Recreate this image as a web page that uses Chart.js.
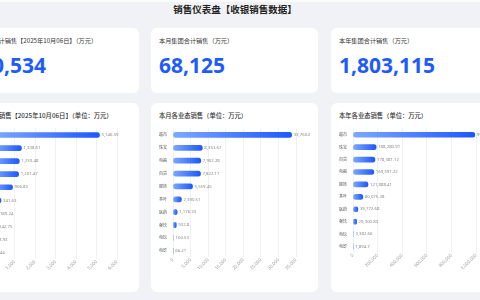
<!DOCTYPE html>
<html>
<head>
<meta charset="utf-8">
<script src="https://cdn.jsdelivr.net/npm/chart.js@4.4.1/dist/chart.umd.min.js"></script>
<style>
  html, body { margin: 0; padding: 0; }
  body {
    width: 480px; height: 300px; overflow: hidden; position: relative;
    background: #f0f2f5;
    font-family: "Noto Sans CJK SC", "Noto Sans", sans-serif;
  }
  .topline { position: absolute; left: 0; top: 0; width: 480px; height: 2px; background: #fbfbfc; }
  .wrap { position: absolute; left: -28px; top: 0; width: 526px; height: 300px; }
  .title {
    position: absolute; left: 0; width: 526px; top: 3px; text-align: center;
    font-size: 9.5px; font-weight: 700; color: #222; line-height: 12px;
  }
  .card { position: absolute; background: #fff; border-radius: 6px; width: 167px; }
  .kpi { top: 28px; height: 65px; }
  .box { top: 103px; height: 189px; }
  .lbl { position: absolute; left: 8px; top: 9px; font-size: 6.2px; line-height: 7px; color: #333; white-space: nowrap; }
  .num { position: absolute; left: 8px; top: 25px; font-size: 21px; line-height: 24px; font-weight: 700; color: #1e5bff; font-family: "Open Sans", "Noto Sans", sans-serif; }
  .ctitle { position: absolute; left: 8px; top: 9px; font-size: 6.3px; line-height: 7px; color: #333; font-weight: 500; white-space: nowrap; }
  .cv { position: absolute; left: 8px; top: 22px; width: 151px; height: 146px; }
</style>
</head>
<body>
<div class="topline"></div>
<div class="wrap">
  <div class="title">销售仪表盘【收银销售数据】</div>

  <div class="card kpi" style="left:0px"><div class="lbl">今日合计销售【2025年10月06日】（万元）</div><div class="num" id="kpiDay"></div></div>
  <div class="card kpi" style="left:179px"><div class="lbl">本月集团合计销售（万元）</div><div class="num" id="kpiMonth"></div></div>
  <div class="card kpi" style="left:359px"><div class="lbl">本年集团合计销售（万元）</div><div class="num" id="kpiYear"></div></div>

  <div class="card box" style="left:0px"><div class="ctitle">今日总销售【2025年10月06日】（单位：万元）</div><div class="cv"><canvas id="dayChart"></canvas></div></div>
  <div class="card box" style="left:179px"><div class="ctitle">本月各业态销售（单位：万元）</div><div class="cv"><canvas id="monthChart"></canvas></div></div>
  <div class="card box" style="left:359px"><div class="ctitle">本年各业态销售（单位：万元）</div><div class="cv"><canvas id="yearChart"></canvas></div></div>
</div>

<script>
// KPI totals
const kpiTotals = [10534, 68125, 1803115];

// today
const dayLabels = ['超市', '珠宝', '百货', '电器', '服饰', '茶叶', '医药', '餐饮', '电玩', '电影'];
const dayValues = [5146.59, 1338.61, 1233.48, 1201.47, 906.83, 341.63, 189.24, 142.75, 28.93, 4.44];

// this month
const monthLabels = ['超市', '珠宝', '电器', '百货', '服饰', '茶叶', '医药', '餐饮', '电玩', '电影'];
const monthValues = [33760.8, 8353.67, 7902.28, 7822.17, 5559.45, 2390.51, 1176.33, 932.8, 160.53, 66.21];

// this year
const yearLabels = ['超市', '珠宝', '百货', '电器', '服饰', '茶叶', '医药', '餐饮', '电玩', '电影'];
const yearValues = [990747.19, 188280.91, 178381.12, 169391.22, 121888.41, 80075.28, 39772.68, 29300.83, 3382.66, 1894.7];

// x tick steps
const tickSteps = [1000, 5000, 200000];

const fmt = v => v.toLocaleString('en-US', { maximumFractionDigits: 2 });

document.getElementById('kpiDay').textContent = fmt(kpiTotals[0]);
document.getElementById('kpiMonth').textContent = fmt(kpiTotals[1]);
document.getElementById('kpiYear').textContent = fmt(kpiTotals[2]);

function barFill(c) {
    const chart = c.chart;
    const xs = chart.scales && chart.scales.x;
    if (!xs || c.type !== 'data' || !isFinite(xs.left)) return '#2f6bff';
    const x0 = xs.getPixelForValue(0);
    const x1 = xs.getPixelForValue(c.raw);
    if (x1 - x0 < 1) return '#9dbaff';
    const g = chart.ctx.createLinearGradient(x0, 0, x1, 0);
    g.addColorStop(0, '#7ea8ff');
    g.addColorStop(1, '#1d58ff');
    return g;
}

const valueLabels = {
    id: 'valueLabels',
    afterDatasetsDraw(chart) {
        const ctx = chart.ctx;
        ctx.save();
        ctx.font = '4.3px "Noto Sans", sans-serif';
        ctx.fillStyle = '#888';
        ctx.textBaseline = 'middle';
        chart.getDatasetMeta(0).data.forEach((bar, i) => {
            ctx.fillText(fmt(chart.data.datasets[0].data[i]), bar.x + 2, bar.y);
        });
        ctx.restore();
    }
};

function makeChart(id, labels, values, step) {
    return new Chart(document.getElementById(id), {
        type: 'bar',
        data: {
            labels: labels,
            datasets: [{
                data: values,
                backgroundColor: barFill,
                barThickness: 5,
                borderRadius: 2.5,
                borderSkipped: false
            }]
        },
        options: {
            indexAxis: 'y',
            animation: false,
            responsive: true,
            maintainAspectRatio: false,
            layout: { padding: { top: 3.5, right: 14, left: 0, bottom: 0 } },
            plugins: { legend: { display: false }, tooltip: { enabled: false } },
            scales: {
                x: {
                    beginAtZero: true,
                    border: { display: false },
                    grid: { color: '#eef1f7', drawTicks: false },
                    afterFit: s => { s.paddingLeft = 0; s.paddingRight = 0; },
                    ticks: {
                        stepSize: step,
                        minRotation: 45, maxRotation: 45,
                        padding: 0,
                        color: '#999',
                        font: { size: 4.5, family: '"Noto Sans", sans-serif' }
                    }
                },
                y: {
                    border: { display: false },
                    grid: { display: false, drawTicks: false },
                    afterFit: s => { s.width = 14; s.paddingTop = 0; s.paddingBottom = 0; },
                    ticks: {
                        padding: 6,
                        color: '#555',
                        font: { size: 4, family: '"Noto Sans CJK SC", sans-serif' }
                    }
                }
            }
        },
        plugins: [valueLabels]
    });
}

makeChart('dayChart', dayLabels, dayValues, tickSteps[0]);
makeChart('monthChart', monthLabels, monthValues, tickSteps[1]);
makeChart('yearChart', yearLabels, yearValues, tickSteps[2]);
</script>
</body>
</html>
